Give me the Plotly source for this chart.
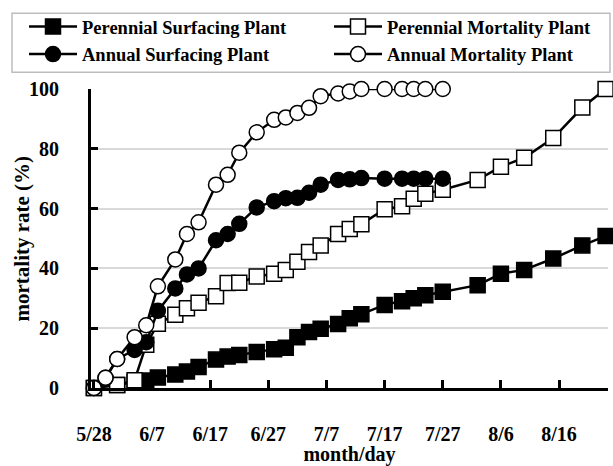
import plotly.graph_objects as go

YEAR = "2014"

# Observation dates (month/day) for the annual plots and the longer perennial record
annual_dates = ["5/28", "5/30", "6/1", "6/4", "6/6", "6/8", "6/11", "6/13", "6/15",
                "6/18", "6/20", "6/22", "6/25", "6/28", "6/30", "7/2", "7/4", "7/6",
                "7/9", "7/11", "7/13", "7/17", "7/20", "7/22", "7/24", "7/27"]
perennial_dates = ["5/28", "6/1", "6/4", "6/6", "6/8", "6/11", "6/13", "6/15",
                   "6/18", "6/20", "6/22", "6/25", "6/28", "6/30", "7/2", "7/4", "7/6",
                   "7/9", "7/11", "7/13", "7/17", "7/20", "7/22", "7/24", "7/27",
                   "8/2", "8/6", "8/10", "8/15", "8/20", "8/24"]

# Cumulative mortality rate (%)
perennial_surfacing = [0, 1, 2, 2.5, 3.5, 4.5, 5.5, 7, 9.5, 10.5, 11, 12, 13, 13.5,
                       17, 18.7, 19.8, 21.4, 23.3, 24.7, 27.8, 29, 30, 31, 32.2,
                       34.4, 38.2, 39.5, 43.3, 47.7, 50.8]
perennial_mortality = [0, 1, 2.6, 14.5, 21.5, 24.5, 26.7, 28.5, 30.7, 35.1, 35.2,
                       37.3, 38.2, 39.5, 42.2, 45.5, 47.7, 51.5, 53.2, 54.8, 59.8,
                       60.8, 63.3, 65, 66.3, 69.6, 74, 77, 83.6, 93.8, 100]
annual_surfacing = [0, 3.4, 9.7, 12.7, 15.3, 25.8, 33.3, 38, 40, 49.4, 51.5, 54.9, 60.4,
                    62.5, 63.5, 63.6, 65.3, 68, 69.6, 69.8, 70.2, 70, 70, 70, 70, 70]
annual_mortality = [0, 3.4, 9.7, 17, 21, 34, 43, 51.5, 55.4, 68, 71.3, 78.7, 85.5,
                    89.7, 90.5, 92, 93.7, 97.6, 98.5, 99.2, 100, 100, 100, 100, 100, 100]

y_ticks = [0, 20, 40, 60, 80, 100]


def to_iso(md):
    m, d = md.split("/")
    return f"{YEAR}-{int(m):02d}-{int(d):02d}"


FONT = "Liberation Serif"

# name, dates, values, marker symbol, marker fill, legend row, legend entry width
series = [
    ("Perennial Surfacing Plant", perennial_dates, perennial_surfacing, "square", "black", "legend", 242),
    ("Perennial Mortality Plant", perennial_dates, perennial_mortality, "square", "white", "legend", 200),
    ("Annual Surfacing Plant", annual_dates, annual_surfacing, "circle", "black", "legend2", 242),
    ("Annual Mortality Plant", annual_dates, annual_mortality, "circle", "white", "legend2", 200),
]

fig = go.Figure()
for name, dates, vals, symbol, fill, leg, lw in series:
    fig.add_trace(go.Scatter(
        x=[to_iso(d) for d in dates], y=vals, name=name, mode="lines+markers",
        line=dict(color="black", width=2.5),
        marker=dict(symbol=symbol, size=15, color=fill,
                    line=dict(color="black", width=1.5)),
        cliponaxis=False, legend=leg, legendwidth=lw,
    ))

W, H = 613, 466
ml, mr, mt, mb = 91, 5, 89, 73
pw, ph = W - ml - mr, H - mt - mb


def px_x(x):
    return (x - ml) / pw


def px_y(y):
    return (H - mb - y) / ph


legend_common = dict(
    orientation="h", xanchor="left", yanchor="middle",
    x=px_x(24), itemwidth=48,
    bgcolor="rgba(0,0,0,0)", borderwidth=0,
    font=dict(family=FONT, size=18.5, color="black", weight="bold"),
)

bold = dict(family=FONT, color="black", weight="bold")

fig.update_layout(
    width=W, height=H,
    margin=dict(l=ml, r=mr, t=mt, b=mb, pad=0),
    paper_bgcolor="white", plot_bgcolor="white",
    font=dict(**bold, size=20),
    legend=dict(**legend_common, y=px_y(26)),
    legend2=dict(**legend_common, y=px_y(54)),
    shapes=[dict(type="rect", xref="paper", yref="paper",
                 x0=px_x(12), x1=px_x(610), y0=px_y(12), y1=px_y(72),
                 line=dict(color="#bdbdbd", width=1.5), fillcolor="rgba(0,0,0,0)",
                 layer="above")],
    annotations=[dict(text="mortality rate (%)", textangle=-90,
                      xref="paper", yref="paper", x=px_x(21), y=0.5,
                      xanchor="center", yanchor="middle", showarrow=False,
                      font=dict(**bold, size=21))],
)

fig.update_xaxes(
    type="date", range=[f"{YEAR}-05-27 12:00", f"{YEAR}-08-24 10:00"],
    tick0=f"{YEAR}-05-28", dtick=10 * 86400000, tickformat="%-m/%-d",
    ticks="inside", ticklen=8, tickwidth=3, tickcolor="black",
    showline=True, linewidth=3, linecolor="black",
    showgrid=False, zeroline=False,
    ticklabelstandoff=26,
    tickfont=dict(**bold, size=20),
    title=dict(text="month/day", standoff=2, font=dict(**bold, size=20)),
)
fig.update_yaxes(
    range=[0, 100], tickvals=y_ticks,
    ticks="inside", ticklen=7, tickwidth=3, tickcolor="black",
    showline=True, linewidth=3, linecolor="black",
    showgrid=True, gridcolor="#d9d9d9", gridwidth=1.5, zeroline=False,
    ticklabelstandoff=25,
    tickfont=dict(**bold, size=20),
)

fig.write_html("out.html")
